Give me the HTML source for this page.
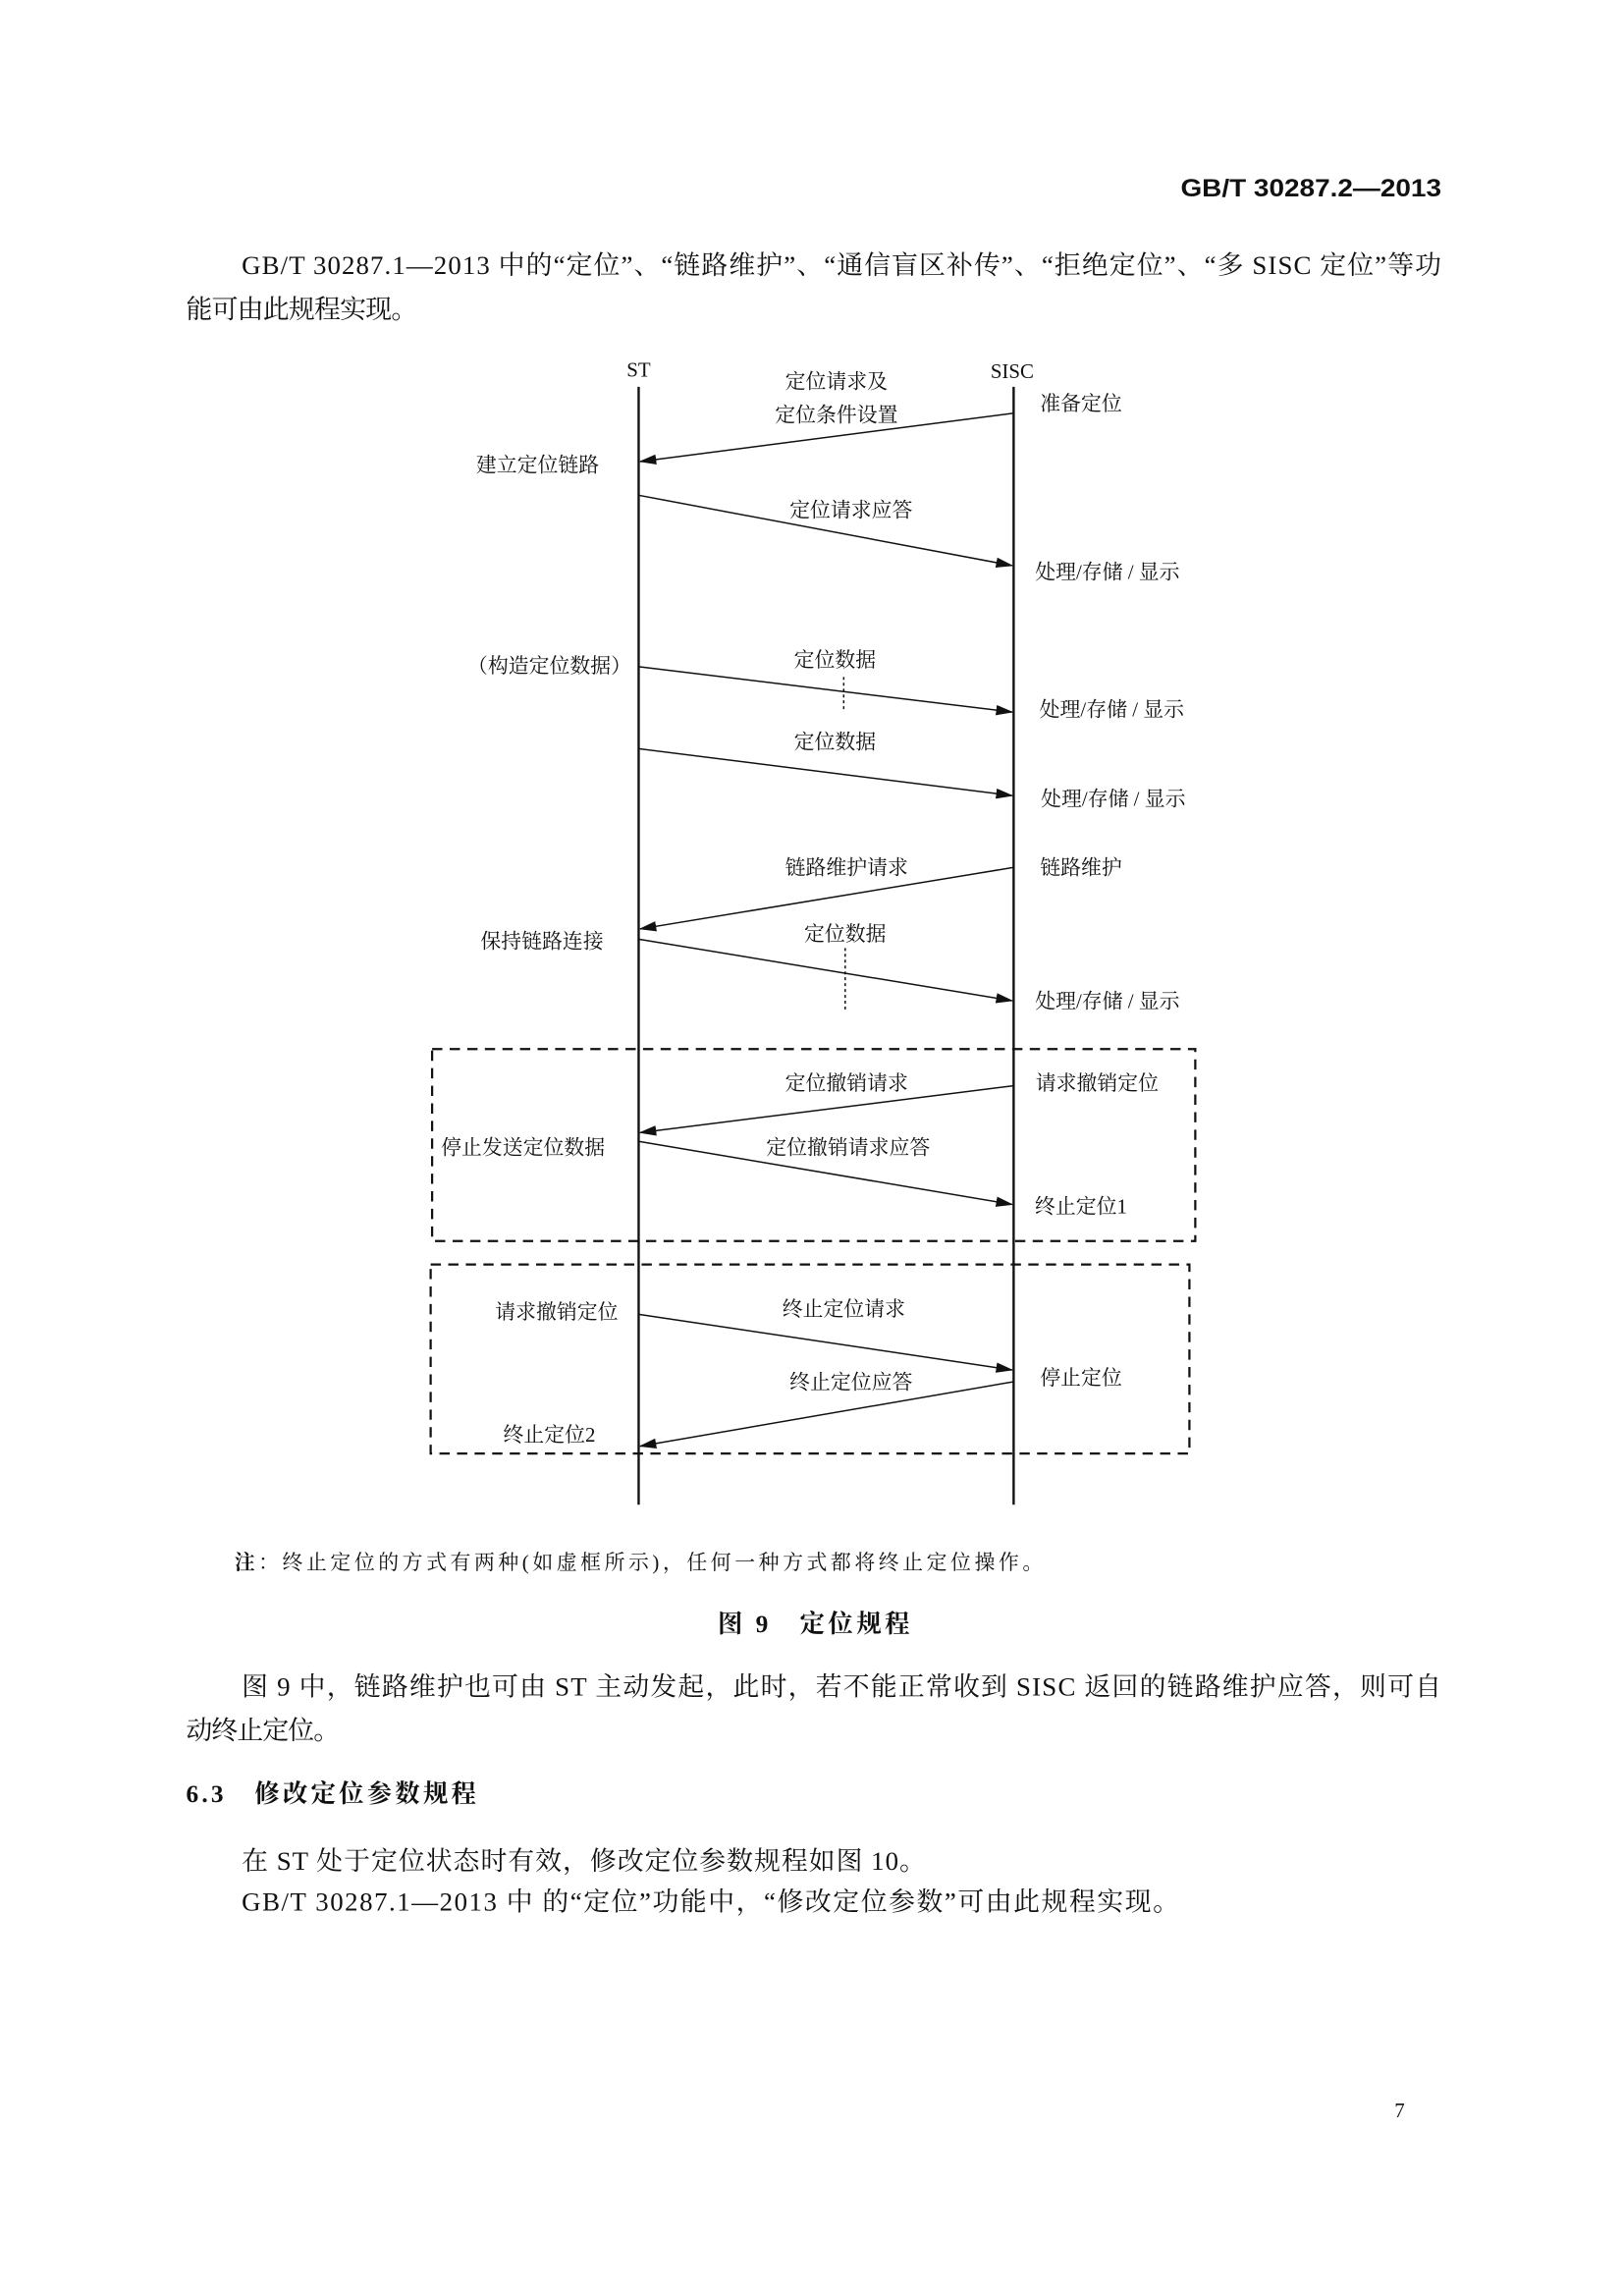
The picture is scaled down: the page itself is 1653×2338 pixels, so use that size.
<!DOCTYPE html>
<html><head><meta charset="utf-8"><style>
html,body{margin:0;padding:0;background:#fff;}
svg{display:block;}
text{font-family:"Liberation Serif","Noto Serif CJK SC",serif;fill:#111;}
.d{font-size:14px;}
.b{font-size:18px;}
</style></head><body>
<svg width="1653" height="2338" viewBox="0 0 1108 1567" preserveAspectRatio="none" xmlns="http://www.w3.org/2000/svg">
<defs><marker id="a" markerWidth="12" markerHeight="8" refX="11" refY="4" orient="auto" markerUnits="userSpaceOnUse"><path d="M0,0.5 L12,4 L0,7.5 z" fill="#111"/></marker></defs>
<text x="806" y="134" textLength="178" lengthAdjust="spacingAndGlyphs" style="font-size:17px;font-weight:bold;font-family:'Liberation Sans',sans-serif">GB/T 30287.2—2013</text>
<text class="b" x="165" y="187" textLength="819" lengthAdjust="spacing">GB/T 30287.1—2013 中的“定位”、“链路维护”、“通信盲区补传”、“拒绝定位”、“多 SISC 定位”等功</text>
<text class="b" x="127" y="217" textLength="158" lengthAdjust="spacing">能可由此规程实现。</text>
<g stroke="#111" fill="none">
<line x1="436" y1="264" x2="436" y2="1027" stroke-width="1.6"/>
<line x1="692" y1="264" x2="692" y2="1027" stroke-width="1.6"/>
<g stroke-width="1" marker-end="url(#a)">
<line x1="692" y1="282" x2="437" y2="315"/>
<line x1="436" y1="338" x2="691" y2="386"/>
<line x1="436" y1="455" x2="691" y2="486"/>
<line x1="436" y1="511" x2="691" y2="543"/>
<line x1="692" y1="592" x2="437" y2="634"/>
<line x1="436" y1="641" x2="691" y2="683"/>
<line x1="692" y1="741" x2="437" y2="773"/>
<line x1="436" y1="779" x2="691" y2="822"/>
<line x1="436" y1="897" x2="691" y2="935"/>
<line x1="692" y1="943" x2="437" y2="987"/>
</g>
<line x1="576" y1="462" x2="576" y2="486" stroke-dasharray="2,2"/>
<line x1="577" y1="647" x2="577" y2="690" stroke-dasharray="2,2"/>
<rect x="295" y="716" width="521" height="131" stroke-width="1.5" stroke-dasharray="7,5"/>
<rect x="294" y="863" width="518" height="129" stroke-width="1.5" stroke-dasharray="7,5"/>
</g>
<g class="d" text-anchor="middle">
<text x="436" y="257">ST</text>
<text x="691" y="258">SISC</text>
<text x="571" y="265">定位请求及</text>
<text x="571" y="288">定位条件设置</text>
<text x="738" y="280">准备定位</text>
<text x="367" y="322">建立定位链路</text>
<text x="581" y="353">定位请求应答</text>
<text x="756" y="395">处理/存储 / 显示</text>
<text x="570" y="455">定位数据</text>
<text x="375" y="459">（构造定位数据）</text>
<text x="759" y="489">处理/存储 / 显示</text>
<text x="570" y="511">定位数据</text>
<text x="760" y="550">处理/存储 / 显示</text>
<text x="578" y="597">链路维护请求</text>
<text x="738" y="597">链路维护</text>
<text x="370" y="647">保持链路连接</text>
<text x="577" y="642">定位数据</text>
<text x="756" y="688">处理/存储 / 显示</text>
<text x="578" y="744">定位撤销请求</text>
<text x="749" y="744">请求撤销定位</text>
<text x="357" y="788">停止发送定位数据</text>
<text x="579" y="788">定位撤销请求应答</text>
<text x="738" y="828">终止定位1</text>
<text x="576" y="898">终止定位请求</text>
<text x="380" y="900">请求撤销定位</text>
<text x="738" y="945">停止定位</text>
<text x="581" y="948">终止定位应答</text>
<text x="375" y="984">终止定位2</text>
</g>
<text x="160" y="1071" textLength="552" lengthAdjust="spacing" style="font-size:14px"><tspan style="font-weight:bold">注</tspan>：终止定位的方式有两种(如虚框所示)，任何一种方式都将终止定位操作。</text>
<text x="490" y="1114" textLength="131" lengthAdjust="spacing" style="font-size:17px;font-weight:bold">图 9　定位规程</text>
<text class="b" x="165" y="1157" textLength="819" lengthAdjust="spacing">图 9 中，链路维护也可由 ST 主动发起，此时，若不能正常收到 SISC 返回的链路维护应答，则可自</text>
<text class="b" x="127" y="1187" textLength="105" lengthAdjust="spacing">动终止定位。</text>
<text x="127" y="1230" textLength="198" lengthAdjust="spacing" style="font-size:17px;font-weight:bold">6.3　修改定位参数规程</text>
<text class="b" x="165" y="1276" textLength="467" lengthAdjust="spacing">在 ST 处于定位状态时有效，修改定位参数规程如图 10。</text>
<text class="b" x="165" y="1304" textLength="640" lengthAdjust="spacing">GB/T 30287.1—2013 中 的“定位”功能中，“修改定位参数”可由此规程实现。</text>
<text x="952" y="1445" style="font-size:14px">7</text>
</svg>
</body></html>
